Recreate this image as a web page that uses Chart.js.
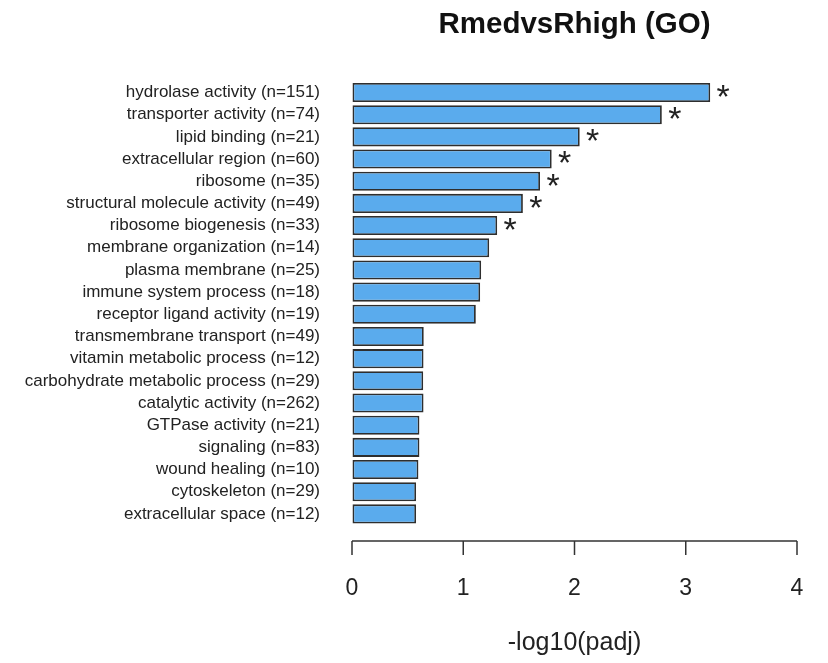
<!DOCTYPE html>
<html>
<head>
<meta charset="utf-8">
<script src="https://cdn.jsdelivr.net/npm/chart.js@4"></script>
<style>
  html, body { margin: 0; padding: 0; background: #fff; }
  #wrap { width: 828px; height: 663px; }
</style>
</head>
<body>
<div id="wrap"><canvas id="goChart" width="828" height="663"></canvas></div>
<script>
const terms = [
    'hydrolase activity (n=151)', 'transporter activity (n=74)', 'lipid binding (n=21)',
    'extracellular region (n=60)', 'ribosome (n=35)', 'structural molecule activity (n=49)',
    'ribosome biogenesis (n=33)', 'membrane organization (n=14)', 'plasma membrane (n=25)',
    'immune system process (n=18)', 'receptor ligand activity (n=19)', 'transmembrane transport (n=49)',
    'vitamin metabolic process (n=12)', 'carbohydrate metabolic process (n=29)', 'catalytic activity (n=262)',
    'GTPase activity (n=21)', 'signaling (n=83)', 'wound healing (n=10)',
    'cytoskeleton (n=29)', 'extracellular space (n=12)'
];
const negLogPadj = [3.22, 2.785, 2.047, 1.795, 1.69, 1.536, 1.305, 1.233, 1.161, 1.152,
                    1.113, 0.645, 0.643, 0.64, 0.643, 0.606, 0.606, 0.597, 0.576, 0.576];
const significant = [true, true, true, true, true, true, true, false, false, false,
                     false, false, false, false, false, false, false, false, false, false];
const xTicks = [0, 1, 2, 3, 4];

const FONT = '"Liberation Sans", Arial, Helvetica, sans-serif';

// R-style detached x axis + significance stars
const extras = {
    id: 'extras',
    afterDraw(chart) {
        const ctx = chart.ctx;
        const x = chart.scales.x;
        const axisY = 541;
        ctx.save();
        ctx.strokeStyle = '#333';
        ctx.lineWidth = 1.5;
        ctx.beginPath();
        ctx.moveTo(x.getPixelForValue(xTicks[0]), axisY);
        ctx.lineTo(x.getPixelForValue(xTicks[xTicks.length - 1]), axisY);
        xTicks.forEach(t => {
            const px = x.getPixelForValue(t);
            ctx.moveTo(px, axisY);
            ctx.lineTo(px, axisY + 14);
        });
        ctx.stroke();

        const meta = chart.getDatasetMeta(0);
        ctx.fillStyle = '#222';
        ctx.font = '34px ' + FONT;
        ctx.textAlign = 'center';
        ctx.textBaseline = 'middle';
        meta.data.forEach((bar, i) => {
            if (significant[i]) ctx.fillText('*', bar.x + 13, bar.y + 6);
        });
        ctx.restore();
    }
};

new Chart(document.getElementById('goChart'), {
    type: 'bar',
    data: {
        labels: terms,
        datasets: [{
            data: negLogPadj,
            backgroundColor: '#5aabed',
            borderColor: '#2e2e2e',
            borderWidth: 1.8,
            borderSkipped: false,
            categoryPercentage: 1,
            barPercentage: 0.86
        }]
    },
    options: {
        indexAxis: 'y',
        responsive: false,
        animation: false,
        layout: { padding: { left: 0, right: 31, top: 0, bottom: 0 } },
        scales: {
            x: {
                min: 0,
                max: 4,
                afterBuildTicks: s => { s.ticks = xTicks.map(v => ({ value: v })); },
                afterFit: s => { s.height = 138; },
                // invisible tick marks just push the labels down; the visible axis is drawn by the plugin
                grid: { drawOnChartArea: false, drawTicks: true, tickLength: 26, tickColor: 'rgba(0,0,0,0)' },
                border: { display: false },
                ticks: { padding: 24, color: '#222', font: { family: FONT, size: 23 } },
                title: {
                    display: true,
                    text: '-log10(padj)',
                    color: '#222',
                    font: { family: FONT, size: 25 },
                    padding: { top: 0, bottom: 5 }
                }
            },
            y: {
                afterFit: s => { s.width = 352; },
                grid: { display: false, drawTicks: false },
                border: { display: false },
                ticks: { autoSkip: false, padding: 32, color: '#222', font: { family: FONT, size: 17 } }
            }
        },
        plugins: {
            legend: { display: false },
            tooltip: { enabled: false },
            title: {
                display: true,
                fullSize: false,
                text: 'RmedvsRhigh (GO)',
                color: '#111',
                font: { family: FONT, size: 29.5, weight: 'bold' },
                padding: { top: 7, bottom: 39 }
            }
        }
    },
    plugins: [extras]
});
</script>
</body>
</html>
